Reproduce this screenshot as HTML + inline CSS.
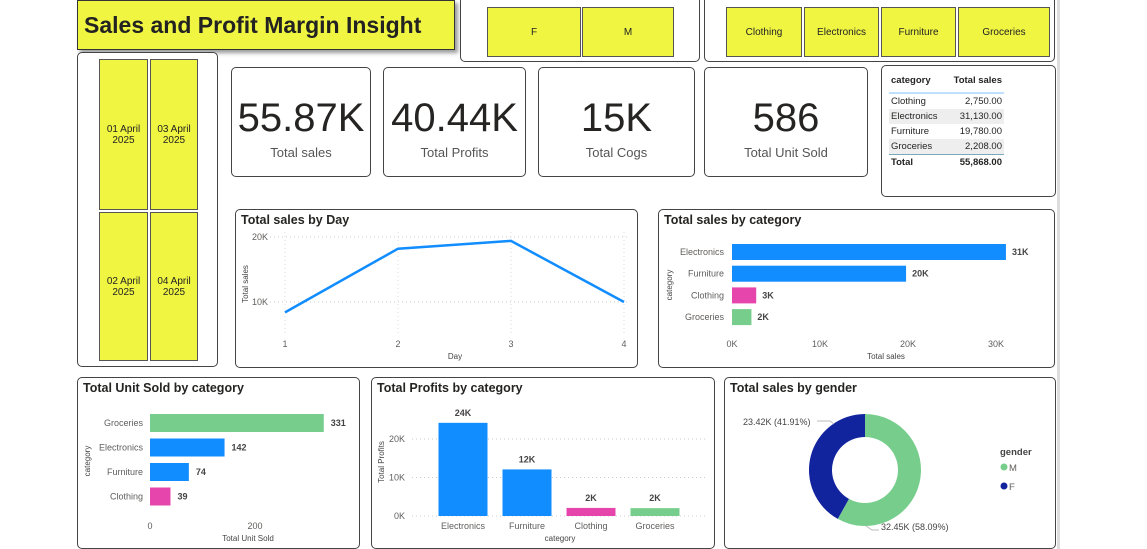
<!DOCTYPE html>
<html><head><meta charset="utf-8">
<style>
body{margin:0;width:1147px;height:549px;background:#fff;position:relative;overflow:hidden;font-family:"Liberation Sans","DejaVu Sans",sans-serif;color:#252423}
.box{position:absolute;border:1px solid #444;border-radius:5px;background:#fff;box-sizing:border-box}
.tile{position:absolute;background:#f0f542;border:1px solid #555;box-sizing:border-box;display:flex;align-items:center;justify-content:center;text-align:center;font-size:10px;color:#222}
.kpi .v{position:absolute;left:0;right:0;top:28px;text-align:center;font-size:40px;color:#252423}
.kpi .l{position:absolute;left:0;right:0;top:77px;text-align:center;font-size:13px;color:#555}
svg text{font-family:"Liberation Sans","DejaVu Sans",sans-serif}
</style></head><body>
<div style="position:absolute;left:1057px;top:0;width:3px;height:549px;background:#ddd"></div>
<div style="position:absolute;left:77px;top:0;width:378px;height:50px;background:#f0f542;border:1px solid #333;box-sizing:border-box;box-shadow:3px 3px 4px #999;font-weight:bold;font-size:23px;line-height:48px;padding-left:6px;color:#222">Sales and Profit Margin Insight</div>

<div class="box" style="left:460px;top:-5px;width:240px;height:67px"></div>
<div class="tile" style="left:487px;top:7px;width:94px;height:50px">F</div>
<div class="tile" style="left:582px;top:7px;width:92px;height:50px">M</div>

<div class="box" style="left:704px;top:-5px;width:351px;height:67px"></div>
<div class="tile" style="left:726px;top:7px;width:76px;height:50px">Clothing</div>
<div class="tile" style="left:804px;top:7px;width:75px;height:50px">Electronics</div>
<div class="tile" style="left:881px;top:7px;width:75px;height:50px">Furniture</div>
<div class="tile" style="left:958px;top:7px;width:92px;height:50px">Groceries</div>

<div class="box" style="left:77px;top:52px;width:141px;height:315px"></div>
<div class="tile" style="left:99px;top:59px;width:49px;height:151px">01 April<br>2025</div>
<div class="tile" style="left:150px;top:59px;width:48px;height:151px">03 April<br>2025</div>
<div class="tile" style="left:99px;top:212px;width:49px;height:149px">02 April<br>2025</div>
<div class="tile" style="left:150px;top:212px;width:48px;height:149px">04 April<br>2025</div>

<div class="box kpi" style="left:231px;top:67px;width:140px;height:110px"><div class="v">55.87K</div><div class="l">Total sales</div></div>
<div class="box kpi" style="left:383px;top:67px;width:143px;height:110px"><div class="v">40.44K</div><div class="l">Total Profits</div></div>
<div class="box kpi" style="left:538px;top:67px;width:157px;height:110px"><div class="v">15K</div><div class="l">Total Cogs</div></div>
<div class="box kpi" style="left:704px;top:67px;width:164px;height:110px"><div class="v">586</div><div class="l">Total Unit Sold</div></div>

<div class="box" style="left:881px;top:65px;width:175px;height:132px;font-size:9.5px">
<table style="position:absolute;left:7px;top:6px;border-collapse:collapse;width:115px">
<tr style="font-weight:bold;border-bottom:2px solid #bfe0ff"><td style="padding:3px 2px 6px">category</td><td style="text-align:right;padding:3px 2px 6px">Total sales</td></tr>
<tr><td style="padding:2px">Clothing</td><td style="text-align:right;padding:2px">2,750.00</td></tr>
<tr style="background:#eee"><td style="padding:2px">Electronics</td><td style="text-align:right;padding:2px">31,130.00</td></tr>
<tr><td style="padding:2px">Furniture</td><td style="text-align:right;padding:2px">19,780.00</td></tr>
<tr style="background:#eee;border-bottom:1px solid #7ab"><td style="padding:2px">Groceries</td><td style="text-align:right;padding:2px">2,208.00</td></tr>
<tr style="font-weight:bold"><td style="padding:2px">Total</td><td style="text-align:right;padding:2px">55,868.00</td></tr>
</table></div>

<div class="box" style="left:235px;top:209px;width:403px;height:159px"></div>
<div class="box" style="left:658px;top:209px;width:397px;height:159px"></div>
<div class="box" style="left:77px;top:377px;width:283px;height:172px"></div>
<div class="box" style="left:371px;top:377px;width:344px;height:172px"></div>
<div class="box" style="left:724px;top:377px;width:332px;height:172px"></div>

<svg id="s" width="1147" height="549" style="position:absolute;left:0;top:0" xmlns="http://www.w3.org/2000/svg"></svg>
<script>
const days=[1,2,3,4];
const daySales=[8400,18200,19400,10000];
const catNames=["Electronics","Furniture","Clothing","Groceries"];
const catSales=[31130,19780,2750,2208];
const catLabels=["31K","20K","3K","2K"];
const unitCats=["Groceries","Electronics","Furniture","Clothing"];
const unitVals=[331,142,74,39];
const profitCats=["Electronics","Furniture","Clothing","Groceries"];
const profitVals=[24200,12100,2100,2040];
const profitLabels=["24K","12K","2K","2K"];
const genders=["M","F"];
const genderVals=[32450,23420];
const genderLabels=["32.45K (58.09%)","23.42K (41.91%)"];

const BLUE="#118DFF",PINK="#E645AB",GREEN="#77CE8C",NAVY="#12239E";
const catColor={Electronics:BLUE,Furniture:BLUE,Clothing:PINK,Groceries:GREEN};
const s=document.getElementById('s');
function el(t,a,txt){const e=document.createElementNS('http://www.w3.org/2000/svg',t);for(const k in a)e.setAttribute(k,a[k]);if(txt!=null)e.textContent=txt;s.appendChild(e);return e;}
function title(x,y,t,n){const e=el('text',{x:x,y:y,'font-size':12.5,'font-weight':'bold',fill:'#252423'},t);}
function txt(x,y,t,o,n){const a=Object.assign({x:x,y:y,'font-size':9,fill:'#605E5C'},o||{});const e=el('text',a,t);return e;}

// Line chart
title(241,224,"Total sales by Day","line-chart-title");
const lx=d=>285+(d-1)*(624-285)/3, ly=v=>302-(v-10000)*(302-237)/10000;
[10000,20000].forEach(v=>{const g=el('line',{x1:270,x2:630,y1:ly(v),y2:ly(v),stroke:'#ccc','stroke-dasharray':'1,3'});txt(268,ly(v)+3,(v/1000)+"K",{'text-anchor':'end'},'line-y-tick');});
days.forEach(d=>{const g=el('line',{x1:lx(d),x2:lx(d),y1:232,y2:335,stroke:'#ddd','stroke-dasharray':'1,3'});txt(lx(d),347,d,{'text-anchor':'middle'},'line-x-tick');});
const pl=el('polyline',{points:days.map((d,i)=>lx(d)+","+ly(daySales[i])).join(" "),fill:'none',stroke:BLUE,'stroke-width':2.5});

txt(455,359,"Day",{'text-anchor':'middle','font-size':8,fill:'#444'},'line-x-title');
txt(0,0,"Total sales",{transform:'translate(248,284) rotate(-90)','text-anchor':'middle','font-size':8,fill:'#444'},'line-y-title');

// Category bar
title(664,224,"Total sales by category","category-bar-title");
const cx=v=>732+v*(996-732)/30000;
[0,10000,20000,30000].forEach(v=>txt(cx(v),347,(v/1000)+"K",{'text-anchor':'middle'},'category-x-tick'));
catNames.forEach((c,i)=>{const y=244+i*21.7;const r=el('rect',{x:732,y:y,width:cx(catSales[i])-732,height:16,fill:catColor[c]});
txt(724,y+11,c,{'text-anchor':'end'},'category-y-label');txt(cx(catSales[i])+6,y+11,catLabels[i],{'font-weight':'bold',fill:'#444'},'category-bar-value');});
txt(886,359,"Total sales",{'text-anchor':'middle','font-size':8,fill:'#444'},'category-x-title');
txt(0,0,"category",{transform:'translate(672,285) rotate(-90)','text-anchor':'middle','font-size':8,fill:'#444'},'category-y-title');

// Unit sold
title(83,392,"Total Unit Sold by category","unit-sold-title");
const ux=v=>150+v*(255-150)/200;
[0,200].forEach(v=>txt(ux(v),529,v,{'text-anchor':'middle'},'unit-x-tick'));
unitCats.forEach((c,i)=>{const y=414+i*24.5;const r=el('rect',{x:150,y:y,width:ux(unitVals[i])-150,height:18,fill:catColor[c]});
txt(143,y+12,c,{'text-anchor':'end'},'unit-y-label');txt(ux(unitVals[i])+7,y+12,unitVals[i],{'font-weight':'bold',fill:'#444'},'unit-bar-value');});
txt(248,541,"Total Unit Sold",{'text-anchor':'middle','font-size':8,fill:'#444'},'unit-x-title');
txt(0,0,"category",{transform:'translate(90,461) rotate(-90)','text-anchor':'middle','font-size':8,fill:'#444'},'unit-y-title');

// Profits column
title(377,392,"Total Profits by category","profits-title");
const py=v=>516-v*(516-439)/20000, pcx=i=>463+i*64;
[0,10000,20000].forEach(v=>{const g=el('line',{x1:412,x2:708,y1:py(v),y2:py(v),stroke:'#ccc','stroke-dasharray':'1,3'});txt(405,py(v)+3,(v/1000)+"K",{'text-anchor':'end'},'profit-y-tick');});
profitCats.forEach((c,i)=>{const r=el('rect',{x:pcx(i)-24.5,y:py(profitVals[i]),width:49,height:516-py(profitVals[i]),fill:catColor[c]});
txt(pcx(i),529,c,{'text-anchor':'middle'},'profit-x-label');txt(pcx(i),py(profitVals[i])-7,profitLabels[i],{'text-anchor':'middle','font-weight':'bold',fill:'#444'},'profit-bar-value');});
txt(560,541,"category",{'text-anchor':'middle','font-size':8,fill:'#444'},'profit-x-title');
txt(0,0,"Total Profits",{transform:'translate(384,462) rotate(-90)','text-anchor':'middle','font-size':8,fill:'#444'},'profit-y-title');

// Donut
title(730,392,"Total sales by gender","donut-title");
const dcx=865,dcy=470,R=56,r0=33,tot=genderVals.reduce((a,b)=>a+b,0);
const gcol={M:GREEN,F:NAVY};
let a0=0;
genders.forEach((g,i)=>{const a1=a0+genderVals[i]/tot*2*Math.PI;const p=(a,rr)=>[dcx+rr*Math.sin(a),dcy-rr*Math.cos(a)];
const [x1,y1]=p(a0,R),[x2,y2]=p(a1,R),[x3,y3]=p(a1,r0),[x4,y4]=p(a0,r0);const lg=(a1-a0)>Math.PI?1:0;
const e=el('path',{d:`M${x1},${y1}A${R},${R} 0 ${lg} 1 ${x2},${y2}L${x3},${y3}A${r0},${r0} 0 ${lg} 0 ${x4},${y4}Z`,fill:gcol[g]});
a0=a1;});
txt(881,530,genderLabels[0],{'font-size':9,fill:'#444'},'donut-label-m');
txt(743,425,genderLabels[1],{'font-size':9,fill:'#444'},'donut-label-f');
const l1=el('polyline',{points:'866,526 872,530 879,530',fill:'none',stroke:'#bbb'});
const l2=el('polyline',{points:'817,421 830,421 834,424',fill:'none',stroke:'#bbb'});
txt(1000,455,"gender",{'font-size':9.5,'font-weight':'bold',fill:'#444'},'legend-title');
genders.forEach((g,i)=>{const c=el('circle',{cx:1004,cy:467+i*19,r:3.5,fill:gcol[g]});
txt(1009,471+i*19,g,{'font-size':9.5},'legend-entry-'+g.toLowerCase());});
</script>
</body></html>
